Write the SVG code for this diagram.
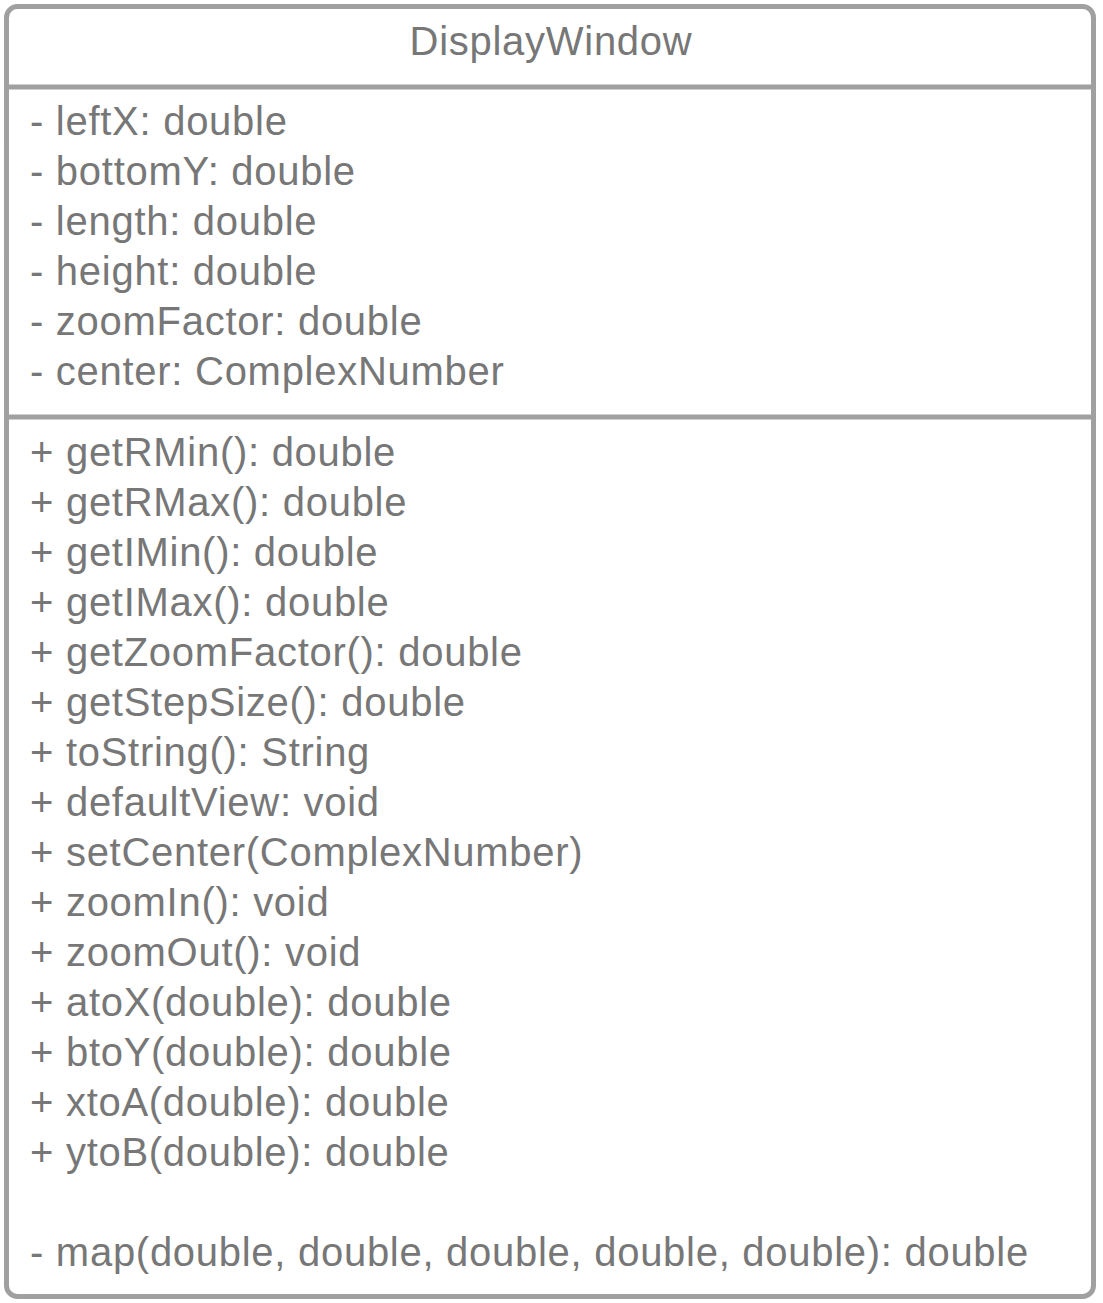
<svg xmlns="http://www.w3.org/2000/svg" width="1103" height="1303" viewBox="0 0 1103 1303">
  <style>
    .frame { fill: #ffffff; stroke: #a0a0a0; stroke-width: 5; }
    .rule { stroke: #a0a0a0; stroke-width: 5; }
    .t { font-family: "Liberation Sans", Arial, sans-serif; font-size: 40px; letter-spacing: 0.72px; fill: #777777; }
    .title { text-anchor: middle; }
  </style>
  <g id="DisplayWindow">
    <rect class="frame" x="6.5" y="6.5" width="1087" height="1290" rx="11" ry="11"/>
    <line class="rule" x1="6.5" y1="87" x2="1093.5" y2="87"/>
    <line class="rule" x1="6.5" y1="417" x2="1093.5" y2="417"/>
    <text class="t title" x="551" y="55">DisplayWindow</text>
    <g id="attributes">
      <text class="t" x="30" y="135">- leftX: double</text>
      <text class="t" x="30" y="185">- bottomY: double</text>
      <text class="t" x="30" y="235">- length: double</text>
      <text class="t" x="30" y="285">- height: double</text>
      <text class="t" x="30" y="335">- zoomFactor: double</text>
      <text class="t" x="30" y="385">- center: ComplexNumber</text>
    </g>
    <g id="operations">
      <text class="t" x="30" y="466">+ getRMin(): double</text>
      <text class="t" x="30" y="516">+ getRMax(): double</text>
      <text class="t" x="30" y="566">+ getIMin(): double</text>
      <text class="t" x="30" y="616">+ getIMax(): double</text>
      <text class="t" x="30" y="666">+ getZoomFactor(): double</text>
      <text class="t" x="30" y="716">+ getStepSize(): double</text>
      <text class="t" x="30" y="766">+ toString(): String</text>
      <text class="t" x="30" y="816">+ defaultView: void</text>
      <text class="t" x="30" y="866">+ setCenter(ComplexNumber)</text>
      <text class="t" x="30" y="916">+ zoomIn(): void</text>
      <text class="t" x="30" y="966">+ zoomOut(): void</text>
      <text class="t" x="30" y="1016">+ atoX(double): double</text>
      <text class="t" x="30" y="1066">+ btoY(double): double</text>
      <text class="t" x="30" y="1116">+ xtoA(double): double</text>
      <text class="t" x="30" y="1166">+ ytoB(double): double</text>
      <text class="t" x="30" y="1266">- map(double, double, double, double, double): double</text>
    </g>
  </g>
</svg>
